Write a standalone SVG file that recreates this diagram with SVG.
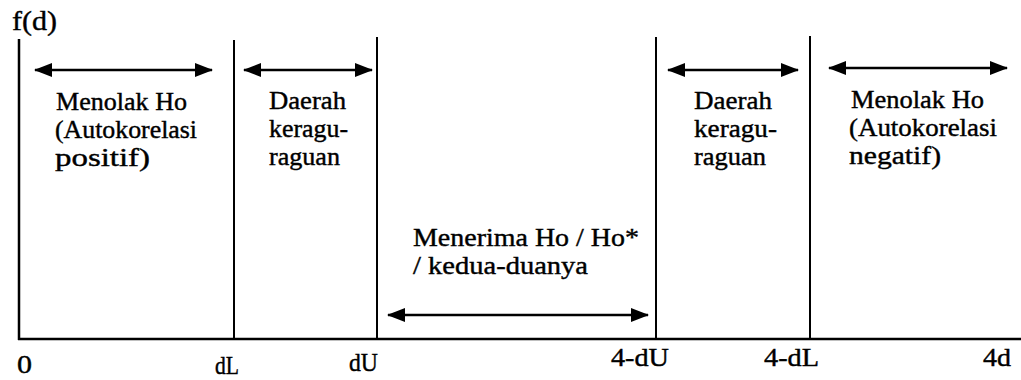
<svg xmlns="http://www.w3.org/2000/svg" width="1021" height="380" viewBox="0 0 1021 380" font-family="'Liberation Serif', 'Times New Roman', serif">
  <style>
    .bg { fill: #ffffff; }
    .axis { stroke: #000; stroke-width: 2.5; fill: none; }
    .bound { stroke: #000; stroke-width: 2; fill: none; }
    .span { stroke: #000; stroke-width: 2.4; fill: none; marker-start: url(#head); marker-end: url(#head); }
    text { font-family: 'Liberation Serif', 'Times New Roman', serif; font-size: 25px; fill: #000; stroke: #000; stroke-width: 0.4; }
    .lbl { font-size: 25px; }
    .title { font-size: 28px; }
  </style>
  <defs>
    <marker id="head" viewBox="0 0 18 14" refX="17" refY="7" markerWidth="18" markerHeight="14" markerUnits="userSpaceOnUse" orient="auto-start-reverse">
      <path d="M0,0 L18,7 L0,14 Z" fill="#000"/>
    </marker>
  </defs>
  <rect class="bg" x="0" y="0" width="1021" height="380"/>

  <!-- axes -->
  <g id="axes">
    <line class="axis" x1="19" y1="39" x2="19" y2="340"/>
    <line class="axis" x1="18" y1="339" x2="1021" y2="339"/>
    <text class="title" x="12" y="30" textLength="45" lengthAdjust="spacingAndGlyphs">f(d)</text>
  </g>

  <!-- region boundaries -->
  <g id="boundaries">
    <line class="bound" x1="234" y1="40" x2="234" y2="339"/>
    <line class="bound" x1="377" y1="37" x2="377" y2="339"/>
    <line class="bound" x1="656" y1="37" x2="656" y2="339"/>
    <line class="bound" x1="810" y1="36" x2="810" y2="339"/>
  </g>

  <!-- axis labels -->
  <g id="ticks">
    <text class="lbl" x="17" y="373" textLength="15" lengthAdjust="spacingAndGlyphs">0</text>
    <text class="lbl" x="215" y="374" textLength="24" lengthAdjust="spacingAndGlyphs">dL</text>
    <text class="lbl" x="349" y="371" textLength="29" lengthAdjust="spacingAndGlyphs">dU</text>
    <text class="lbl" x="611" y="366" textLength="58" lengthAdjust="spacingAndGlyphs">4-dU</text>
    <text class="lbl" x="764" y="366" textLength="55" lengthAdjust="spacingAndGlyphs">4-dL</text>
    <text class="lbl" x="983" y="366" textLength="28" lengthAdjust="spacingAndGlyphs">4d</text>
  </g>

  <!-- range arrows -->
  <g id="connectors">
    <line class="span" x1="35" y1="70" x2="212" y2="70"/>
    <line class="span" x1="244" y1="70" x2="372" y2="70"/>
    <line class="span" x1="388" y1="315" x2="648" y2="315"/>
    <line class="span" x1="668" y1="70" x2="798" y2="70"/>
    <line class="span" x1="829" y1="68" x2="1007" y2="68"/>
  </g>

  <!-- region labels -->
  <g id="reject-positive">
    <text x="56" y="110" textLength="131" lengthAdjust="spacingAndGlyphs">Menolak Ho</text>
    <text x="55" y="138" textLength="142" lengthAdjust="spacingAndGlyphs">(Autokorelasi</text>
    <text x="55" y="166" textLength="95" lengthAdjust="spacingAndGlyphs">positif)</text>
  </g>
  <g id="doubt-lower">
    <text x="269" y="109" textLength="77" lengthAdjust="spacingAndGlyphs">Daerah</text>
    <text x="269" y="137" textLength="79" lengthAdjust="spacingAndGlyphs">keragu-</text>
    <text x="269" y="165" textLength="71" lengthAdjust="spacingAndGlyphs">raguan</text>
  </g>
  <g id="accept">
    <text x="413" y="246" textLength="226" lengthAdjust="spacingAndGlyphs">Menerima Ho / Ho*</text>
    <text x="413" y="274" textLength="175" lengthAdjust="spacingAndGlyphs">/ kedua-duanya</text>
  </g>
  <g id="doubt-upper">
    <text x="694" y="109" textLength="78" lengthAdjust="spacingAndGlyphs">Daerah</text>
    <text x="694" y="137" textLength="83" lengthAdjust="spacingAndGlyphs">keragu-</text>
    <text x="694" y="165" textLength="72" lengthAdjust="spacingAndGlyphs">raguan</text>
  </g>
  <g id="reject-negative">
    <text x="851" y="108" textLength="133" lengthAdjust="spacingAndGlyphs">Menolak Ho</text>
    <text x="849" y="136" textLength="148" lengthAdjust="spacingAndGlyphs">(Autokorelasi</text>
    <text x="849" y="164" textLength="92" lengthAdjust="spacingAndGlyphs">negatif)</text>
  </g>
</svg>
